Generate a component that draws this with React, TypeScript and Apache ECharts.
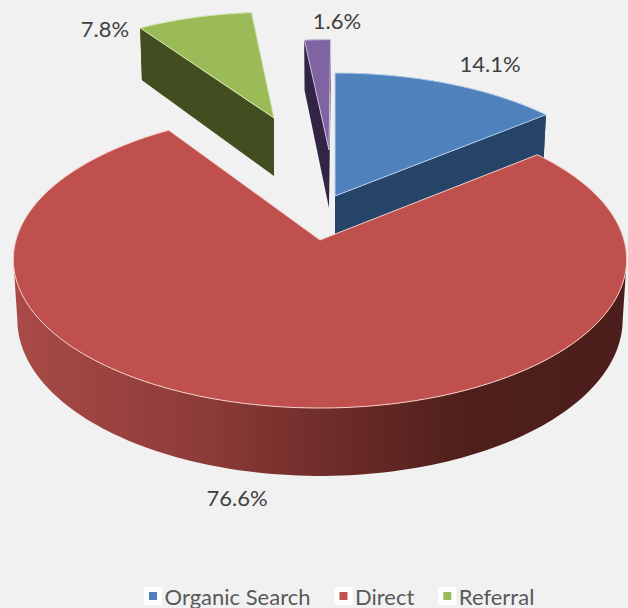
import React, { useEffect, useRef } from "react";
import * as echarts from "echarts";

// Data
const categories = ["Organic Search", "Direct", "Referral", "Other"];
const shares = [14.1, 76.6, 7.8, 1.6];
const legendNames = ["Organic Search", "Direct", "Referral"];

// Styles
const faceColors = ["#4f81bd", "#c0504d", "#9bbb59", "#8064a2"];
const edgeColors = ["#b9d2ee", "#f3cfc8", "#dcebbd", "#cfc2de"];
const wallColors = ["#254468", "", "#424e20", "#312445"];
const font = "Lato, 'Open Sans', sans-serif";

// Projection of the tilted pie (unit circle -> screen)
const RX = 304;
const RY = 146;
const K = 0.131;
const sliceApexX = [335, 320, 274, 329];
const sliceApexY = [196, 240, 118, 150];
const sliceScaleX = [0.97, 1.0, 0.885, 0.97];
const sliceScaleY = [0.953, 1.0, 0.82, 0.855];
const sliceDepth = [58, 59, 58, 58];
const labelX = [490, 237, 105, 337];
const labelY = [63, 497, 28, 20];

function startAngle(i: number) {
  let s = 0;
  for (let j = 0; j < i; j++) s += shares[j];
  return (s / 100) * Math.PI * 2;
}

function rim(i: number, a: number): { top: number[]; bottom: number[] } {
  const u = Math.sin(a);
  const v = Math.cos(a);
  const w = 1 + K * v;
  const lx = ((RX * u) / w) * sliceScaleX[i];
  const ly = ((RY * v) / w) * sliceScaleY[i];
  return {
    top: [sliceApexX[i] + lx, sliceApexY[i] - ly],
    bottom: [sliceApexX[i] + lx * 0.987, sliceApexY[i] - ly + sliceDepth[i] / w],
  };
}

function makeRenderItem(i: number) {
  return (_params: any, api: any) => {
    const value = api.value(0) as number;
    const a0 = startAngle(i);
    const span = (value / 100) * Math.PI * 2;
    const a1 = a0 + span;
    const n = Math.max(8, Math.round(span * 40));
    const top: number[][] = [];
    const bottom: number[][] = [];
    for (let k = 0; k <= n; k++) {
      const r = rim(i, a0 + (span * k) / n);
      top.push(r.top);
      bottom.push(r.bottom);
    }
    // The wall runs between the arc's left and right extremes; its closing edges are the silhouette
    let kMin = 0;
    let kMax = 0;
    top.forEach((p, k) => {
      if (p[0] < top[kMin][0]) kMin = k;
      if (p[0] > top[kMax][0]) kMax = k;
    });
    const lo = Math.min(kMin, kMax);
    const hi = Math.max(kMin, kMax);
    const apex = [sliceApexX[i], sliceApexY[i]];
    const apexLow = [sliceApexX[i], sliceApexY[i] + sliceDepth[i]];
    const wallFill: any =
      i === 1
        ? new echarts.graphic.LinearGradient(0, 0, 1, 0, [
            { offset: 0, color: "#a94a47" },
            { offset: 0.3, color: "#8e3c39" },
            { offset: 0.55, color: "#6a2a27" },
            { offset: 0.75, color: "#4e1f1b" },
            { offset: 1, color: "#4c1e1b" },
          ])
        : wallColors[i];
    const children: any[] = [
      {
        type: "polygon",
        shape: { points: [...top.slice(lo, hi + 1), ...bottom.slice(lo, hi + 1).reverse()] },
        style: { fill: wallFill },
        silent: true,
      },
    ];
    if (span < Math.PI) {
      const r0 = rim(i, a0);
      const r1 = rim(i, a1);
      children.push(
        { type: "polygon", shape: { points: [apex, r0.top, r0.bottom, apexLow] }, style: { fill: wallFill }, silent: true },
        { type: "polygon", shape: { points: [apex, r1.top, r1.bottom, apexLow] }, style: { fill: wallFill }, silent: true },
      );
    }
    children.push(
      {
        type: "polygon",
        shape: { points: [apex, ...top] },
        style: { fill: faceColors[i], stroke: edgeColors[i], lineWidth: 1 },
        silent: true,
      },
      {
        type: "text",
        silent: true,
        style: {
          text: value.toFixed(1) + "%",
          x: labelX[i],
          y: labelY[i],
          fill: "#404040",
          fontSize: 22,
          fontFamily: font,
          align: "center",
          verticalAlign: "middle",
        },
      },
    );
    return { type: "group", children };
  };
}

export default function App() {
  const ref = useRef<HTMLDivElement>(null);
  useEffect(() => {
    document.body.style.margin = "0";
    const chart = echarts.init(ref.current!, undefined, { renderer: "svg" });
    chart.setOption({
      animation: false,
      backgroundColor: "#f1f1f1",
      legend: {
        data: legendNames,
        left: 144,
        top: 585,
        icon: "rect",
        itemWidth: 13,
        itemHeight: 13,
        itemGap: 24,
        padding: 0,
        itemStyle: { borderColor: "#ffffff", borderWidth: 5 },
        textStyle: { fontSize: 22, fontFamily: font, color: "#595959" },
      },
      series: categories.map((name, i) => ({
        type: "custom",
        name,
        coordinateSystem: "none",
        itemStyle: { color: faceColors[i] },
        data: [[shares[i]]],
        renderItem: makeRenderItem(i),
      })),
    });
    return () => chart.dispose();
  }, []);
  return <div ref={ref} style={{ width: 628, height: 608 }} />;
}
